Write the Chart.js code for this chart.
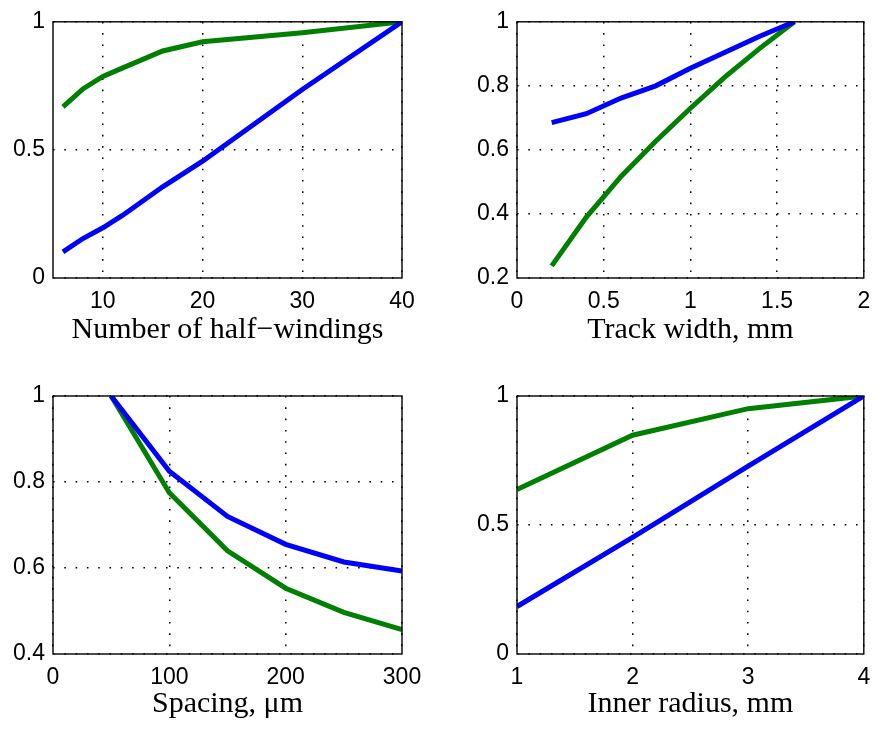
<!DOCTYPE html>
<html>
<head>
<meta charset="utf-8">
<script src="https://cdn.jsdelivr.net/npm/chart.js@4"></script>
<style>
  html, body { margin: 0; padding: 0; background: #ffffff; }
  #fig { position: relative; width: 880px; height: 729px; background: #ffffff; }
  #fig canvas { position: absolute; }
</style>
</head>
<body>
<div id="fig">
  <canvas id="pWindings" width="440" height="364" style="left:0px;top:0px"></canvas>
  <canvas id="pTrack" width="440" height="364" style="left:440px;top:0px"></canvas>
  <canvas id="pSpacing" width="440" height="365" style="left:0px;top:364px"></canvas>
  <canvas id="pRadius" width="440" height="365" style="left:440px;top:364px"></canvas>
</div>
<script>
// ---- Number of half-windings ----
const windingsX = [6, 8, 10, 12, 16, 20, 30, 40];
const windingsBlue = [0.102, 0.154, 0.196, 0.245, 0.356, 0.456, 0.736, 1.0];
const windingsGreen = [0.668, 0.738, 0.787, 0.820, 0.886, 0.922, 0.957, 1.0];
const windingsXTicks = [10, 20, 30, 40];
const windingsYTicks = [0, 0.5, 1];

// ---- Track width, mm ----
const trackX = [0.2, 0.4, 0.6, 0.8, 1.0, 1.2, 1.4, 1.6];
const trackBlue = [0.685, 0.713, 0.762, 0.800, 0.855, 0.905, 0.955, 1.0];
const trackGreen = [0.238, 0.390, 0.517, 0.627, 0.730, 0.828, 0.917, 1.0];
const trackXTicks = [0, 0.5, 1, 1.5, 2];
const trackYTicks = [0.2, 0.4, 0.6, 0.8, 1];

// ---- Spacing, µm ----
const spacingX = [50, 100, 150, 200, 250, 300];
const spacingBlue = [1.0, 0.825, 0.720, 0.655, 0.614, 0.593];
const spacingGreen = [1.0, 0.775, 0.640, 0.553, 0.497, 0.457];
const spacingXTicks = [0, 100, 200, 300];
const spacingYTicks = [0.4, 0.6, 0.8, 1];

// ---- Inner radius, mm ----
const radiusX = [1, 2, 3, 4];
const radiusBlue = [0.184, 0.452, 0.728, 1.0];
const radiusGreen = [0.638, 0.848, 0.951, 1.0];
const radiusXTicks = [1, 2, 3, 4];
const radiusYTicks = [0, 0.5, 1];

const BLUE = '#0000ff';
const GREEN = '#008000';
const TICK_FONT = { family: '"Liberation Sans", Arial, Helvetica, sans-serif', size: 23 };
const TITLE_FONT = { family: '"Liberation Serif", "Times New Roman", serif', size: 30 };

// Closed box around the axes
const boxFrame = {
  id: 'boxFrame',
  afterDraw(chart) {
    const a = chart.chartArea;
    const ctx = chart.ctx;
    ctx.save();
    ctx.strokeStyle = '#000000';
    ctx.lineWidth = 1.4;
    ctx.strokeRect(a.left, a.top, a.right - a.left, a.bottom - a.top);
    ctx.restore();
  }
};

function toPoints(xs, ys) {
  return xs.map((x, i) => ({ x: x, y: ys[i] }));
}

function fixedTicks(values) {
  return function (scale) {
    scale.ticks = values.map(v => ({ value: v }));
  };
}

// geo: plot-area box inside the canvas (left, top, right, bottom) and title offset
function makePanel(id, geo, xs, blue, green, xRange, yRange, xTicks, yTicks, title) {
  const canvas = document.getElementById(id);
  const W = canvas.width, H = canvas.height;
  const titleCenter = geo.bottom + geo.titleGap;
  const lineH = TITLE_FONT.size * 1.2;
  const gridOpts = { color: '#000000', lineWidth: 1.5, drawTicks: false };
  const borderOpts = { display: false, dash: [1.6, 9.7] };
  return new Chart(canvas, {
    type: 'line',
    data: {
      datasets: [
        { data: toPoints(xs, blue), borderColor: BLUE, borderWidth: 5, pointRadius: 0, tension: 0, clip: 0 },
        { data: toPoints(xs, green), borderColor: GREEN, borderWidth: 5, pointRadius: 0, tension: 0, clip: 0 }
      ]
    },
    options: {
      responsive: false,
      devicePixelRatio: 1,
      animation: false,
      events: [],
      layout: { padding: { left: 0, top: geo.top, right: W - geo.right, bottom: 0 } },
      plugins: { legend: { display: false }, tooltip: { enabled: false } },
      scales: {
        x: {
          type: 'linear',
          min: xRange[0], max: xRange[1],
          afterBuildTicks: fixedTicks(xTicks),
          afterFit(scale) { scale.height = H - geo.bottom; },
          grid: gridOpts,
          border: borderOpts,
          ticks: {
            color: '#000000', font: TICK_FONT, padding: 9.8,
            maxRotation: 0, autoSkip: false,
            callback: v => String(v)
          },
          title: {
            display: true, text: title, color: '#000000', font: TITLE_FONT,
            padding: { top: 0, bottom: H - titleCenter - lineH / 2 }
          }
        },
        y: {
          type: 'linear',
          min: yRange[0], max: yRange[1],
          afterBuildTicks: fixedTicks(yTicks),
          afterFit(scale) { scale.width = geo.left; },
          grid: gridOpts,
          border: borderOpts,
          ticks: {
            color: '#000000', font: TICK_FONT, padding: 8,
            autoSkip: false,
            callback: v => String(v)
          }
        }
      }
    },
    plugins: [boxFrame]
  });
}

makePanel('pWindings', { left: 53, top: 20, right: 402, bottom: 278, titleGap: 52 },
  windingsX, windingsBlue, windingsGreen, [5, 40], [0, 1], windingsXTicks, windingsYTicks,
  'Number of half\u2212windings');

makePanel('pTrack', { left: 77, top: 20, right: 428, bottom: 278, titleGap: 52 },
  trackX, trackBlue, trackGreen, [0, 2], [0.2, 1], trackXTicks, trackYTicks,
  'Track width, mm');

makePanel('pSpacing', { left: 53, top: 32, right: 402, bottom: 290, titleGap: 50 },
  spacingX, spacingBlue, spacingGreen, [0, 300], [0.4, 1], spacingXTicks, spacingYTicks,
  'Spacing, \u03bcm');

makePanel('pRadius', { left: 77, top: 32, right: 428, bottom: 290, titleGap: 50 },
  radiusX, radiusBlue, radiusGreen, [1, 4], [0, 1], radiusXTicks, radiusYTicks,
  'Inner radius, mm');
</script>
</body>
</html>
